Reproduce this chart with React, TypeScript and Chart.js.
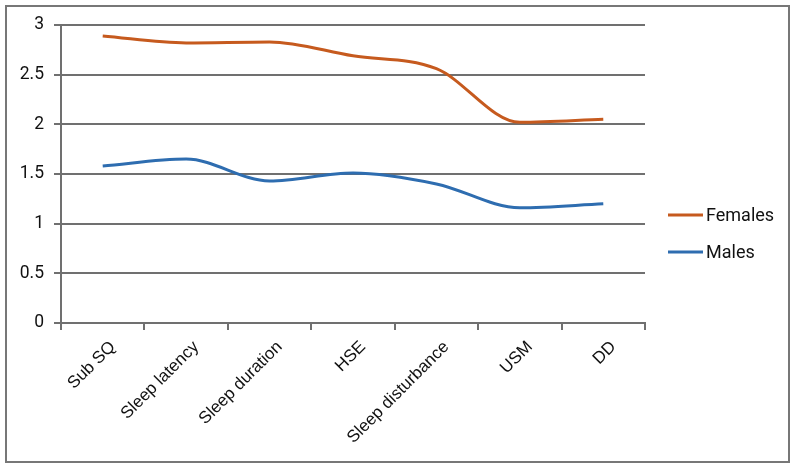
import React, { useEffect, useRef } from "react";
import { Chart, registerables } from "chart.js";

Chart.register(...registerables);

const categories = ["Sub SQ", "Sleep latency", "Sleep duration", "HSE", "Sleep disturbance", "USM", "DD"];
const femalesValues = [2.89, 2.82, 2.83, 2.69, 2.56, 2.02, 2.05];
const malesValues = [1.58, 1.65, 1.43, 1.51, 1.4, 1.16, 1.2];
const seriesNames = ["Females", "Males"];
const seriesColors = ["#C65A1E", "#2E6DB0"];

const GRID = "#707070";

const legendPlugin = {
  id: "sideLegend",
  afterDraw(chart: any) {
    const ctx = chart.ctx;
    const ds = chart.data.datasets;
    const n = ds.length;
    const cy = chart.height / 2;
    const x0 = chart.chartArea.right + 23;
    ctx.save();
    ctx.font = "18px Roboto";
    ctx.textBaseline = "middle";
    ds.forEach((d: any, i: number) => {
      const y = cy + (i - (n - 1) / 2) * 37;
      ctx.strokeStyle = d.borderColor;
      ctx.lineWidth = 3;
      ctx.beginPath();
      ctx.moveTo(x0, y);
      ctx.lineTo(x0 + 35, y);
      ctx.stroke();
      ctx.fillStyle = "#111";
      ctx.fillText(d.label, x0 + 38, y + 1);
    });
    ctx.restore();
  },
};

export default function App() {
  const ref = useRef<HTMLCanvasElement>(null);
  useEffect(() => {
    if (!ref.current) return;
    const chart = new Chart(ref.current, {
      type: "line",
      data: {
        labels: categories,
        datasets: [
          {
            label: seriesNames[0],
            data: femalesValues,
            borderColor: seriesColors[0],
            backgroundColor: seriesColors[0],
            borderWidth: 3,
            cubicInterpolationMode: "monotone",
            pointRadius: 0,
          },
          {
            label: seriesNames[1],
            data: malesValues,
            borderColor: seriesColors[1],
            backgroundColor: seriesColors[1],
            borderWidth: 3,
            cubicInterpolationMode: "monotone",
            pointRadius: 0,
          },
        ],
      },
      options: {
        animation: false,
        responsive: false,
        layout: { padding: { top: 25, right: 151, left: 0, bottom: 0 } },
        plugins: { legend: { display: false }, tooltip: { enabled: false } },
        scales: {
          x: {
            offset: true,
            grid: {
              offset: true,
              drawOnChartArea: false,
              drawTicks: true,
              tickLength: 7,
              color: GRID,
              lineWidth: 2,
            },
            border: { color: GRID, width: 2 },
            ticks: {
              minRotation: 45,
              maxRotation: 45,
              autoSkip: false,
              color: "#111",
              font: { family: "'Liberation Sans', Arial", size: 17 },
              padding: 7,
              labelOffset: 10,
            },
            afterFit(scale: any) {
              scale.height = 144;
            },
          },
          y: {
            min: 0,
            max: 3,
            ticks: {
              stepSize: 0.5,
              color: "#111",
              font: { family: "Roboto", size: 17.5 },
              padding: 10,
              callback: (v: any) => String(Number(v)),
            },
            grid: { color: GRID, lineWidth: 2, tickLength: 7 },
            border: { color: GRID, width: 2 },
            afterFit(scale: any) {
              scale.width = 61;
            },
          },
        },
      },
      plugins: [legendPlugin],
    });
    return () => chart.destroy();
  }, []);
  return (
    <div style={{ position: "absolute", left: 0, top: 0, width: 796, height: 467, background: "#fff" }}>
      <canvas ref={ref} width={796} height={467} style={{ position: "absolute", left: 0, top: 0 }} />
      <div
        style={{
          position: "absolute",
          left: 5,
          top: 5,
          width: 781,
          height: 454,
          border: "2px solid #777",
          pointerEvents: "none",
        }}
      />
    </div>
  );
}
